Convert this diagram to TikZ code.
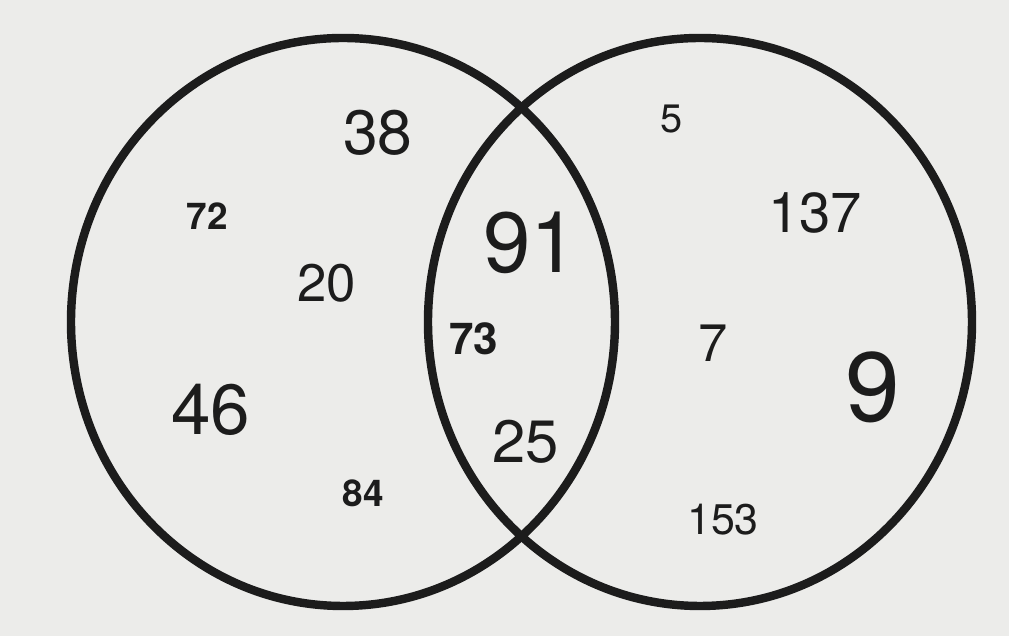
\documentclass[tikz,border=0pt]{standalone}
\usepackage{fontspec}
\setmainfont{TeX Gyre Heros}
\usepackage{tikz}
\usetikzlibrary{positioning}
\definecolor{paper}{RGB}{236,236,234}
\definecolor{ink}{RGB}{28,28,28}
\newcommand{\fsz}[1]{\fontsize{#1}{#1}\selectfont}

\begin{document}
\begin{tikzpicture}[venn/.style={draw=ink,line width=2.4pt},
  num/.style={inner sep=0pt,text=ink}]
  % page
  \fill[paper] (0,0) rectangle (10.09,-6.36);
  \useasboundingbox (0,0) rectangle (10.09,-6.36);
  % the two sets
  \draw[venn] (3.43,-3.22) ellipse [x radius=2.72, y radius=2.84];
  \draw[venn] (7.00,-3.22) ellipse [x radius=2.72, y radius=2.84];
  % left only
  \node[num,font=\fsz{17.8}] (n38) at (3.78,-1.33) {38};
  \node[num,font=\fsz{10.5}\bfseries] (n72) at (2.07,-2.16) {72};
  \node[num,font=\fsz{15}] (n20) at (3.27,-2.83) {20};
  \node[num,font=\fsz{20.2}] (n46) at (2.11,-4.10) {46};
  \node[num,font=\fsz{10.5}\bfseries] (n84) at (3.63,-4.93) {84};
  % both
  \node[num,font=\fsz{24.3}] (n91) at (5.31,-2.43) {91};
  \node[num,font=\fsz{12.5}\bfseries] (n73) at (4.74,-3.39) {73};
  \node[num,font=\fsz{17}] (n25) at (5.26,-4.42) {25};
  % right only
  \node[num,font=\fsz{11.3}] (n5) at (6.72,-1.19) {5};
  \node[num,font=\fsz{16}] (n137) at (8.15,-2.13) {137};
  \node[num,font=\fsz{15}] (n7) at (7.13,-3.43) {7};
  \node[num,font=\fsz{28}] (n9) at (8.73,-3.87) {9};
  \node[num,font=\fsz{12.2}] (n153) at (7.23,-5.20) {153};
\end{tikzpicture}
\end{document}
